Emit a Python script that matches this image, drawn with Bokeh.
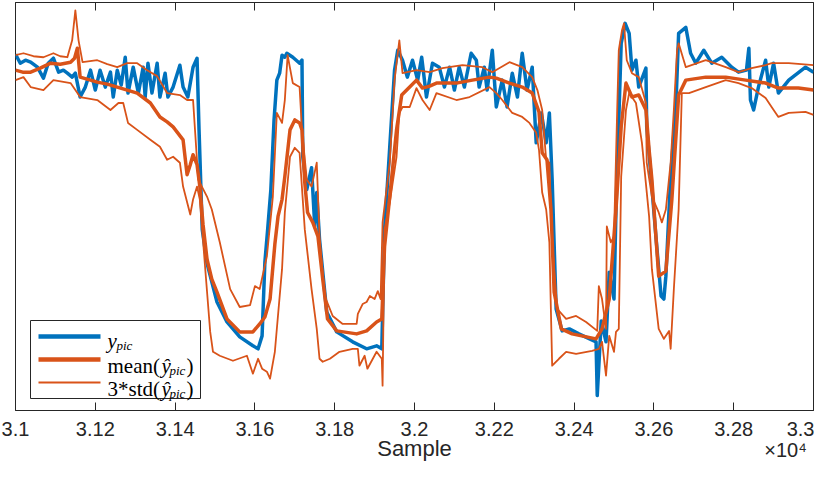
from bokeh.plotting import figure
from bokeh.models import Range1d, FixedTicker, LinearAxis, BoxAnnotation, Label
from bokeh.embed import file_html
from bokeh.resources import INLINE

# ---------------- data (sample index, signal in arbitrary units) ----------------
ypic_sample = [31000, 31012, 31025, 31038, 31055, 31070, 31082, 31095, 31108, 31120, 31130, 31142, 31150,
               31162, 31175, 31188, 31200, 31212, 31225, 31238, 31245, 31255, 31265, 31275, 31282, 31295,
               31308, 31320, 31325, 31332, 31342, 31355, 31362, 31375, 31382, 31395, 31412, 31420, 31432,
               31445, 31455, 31460, 31468, 31480, 31505, 31530, 31562, 31595, 31608, 31618, 31625, 31632,
               31640, 31648, 31655, 31662, 31668, 31675, 31680, 31695, 31712, 31718, 31720, 31730, 31742,
               31750, 31755, 31762, 31780, 31805, 31845, 31880, 31905, 31918, 31925, 31938, 31950, 31958,
               31970, 31982, 31995, 32008, 32018, 32030, 32045, 32062, 32075, 32088, 32100, 32112, 32125,
               32142, 32155, 32162, 32175, 32182, 32195, 32205, 32220, 32232, 32245, 32258, 32270, 32282,
               32295, 32305, 32318, 32330, 32338, 32345, 32355, 32370, 32388, 32412, 32455, 32458, 32468,
               32480, 32488, 32500, 32505, 32518, 32528, 32538, 32545, 32555, 32562, 32580, 32582, 32592,
               32605, 32618, 32625, 32630, 32642, 32655, 32662, 32680, 32692, 32705, 32725, 32745, 32770,
               32795, 32812, 32832, 32838, 32842, 32850, 32862, 32880, 32888, 32900, 32912, 32938, 32980,
               33000]
ypic_value = [358, 349, 352, 350, 345, 334, 349, 354, 340, 342, 339, 335, 339,
              315, 325, 342, 322, 342, 325, 340, 315, 342, 327, 355, 319, 345,
              319, 345, 315, 349, 319, 349, 315, 339, 315, 325, 347, 325, 315,
              345, 354, 282, 182, 148, 109, 89, 74, 65, 62, 75, 149, 182,
              222, 292, 332, 339, 357, 355, 359, 355, 349, 352, 255, 222, 244,
              185, 219, 172, 99, 79, 69, 62, 65, 62, 182, 265, 342, 362,
              352, 335, 352, 332, 355, 315, 349, 345, 325, 345, 322, 345, 325,
              359, 352, 325, 345, 322, 362, 305, 332, 305, 339, 315, 359, 322,
              345, 269, 299, 269, 299, 232, 102, 80, 82, 77, 69, 15, 90,
              69, 139, 112, 202, 369, 389, 379, 342, 352, 325, 344, 285, 239,
              175, 115, 112, 135, 235, 305, 379, 385, 359, 349, 362, 349, 355,
              345, 340, 342, 364, 312, 302, 325, 352, 325, 349, 319, 332, 345,
              340]

mean_sample = [31000, 31018, 31038, 31062, 31088, 31112, 31138, 31148, 31155, 31162, 31188, 31205, 31230,
               31255, 31280, 31305, 31338, 31362, 31380, 31395, 31420, 31430, 31438, 31445, 31455, 31462,
               31470, 31480, 31492, 31505, 31530, 31562, 31595, 31612, 31625, 31638, 31650, 31658, 31668,
               31675, 31688, 31700, 31712, 31718, 31725, 31732, 31745, 31758, 31770, 31782, 31805, 31855,
               31880, 31905, 31918, 31925, 31938, 31955, 31968, 31988, 32005, 32020, 32038, 32055, 32105,
               32145, 32188, 32205, 32238, 32270, 32295, 32312, 32320, 32332, 32342, 32350, 32368, 32395,
               32455, 32470, 32488, 32505, 32518, 32530, 32545, 32562, 32580, 32588, 32595, 32612, 32630,
               32645, 32662, 32680, 32730, 32780, 32830, 32880, 32912, 32962, 33000]
mean_value = [342, 340, 340, 344, 349, 348, 350, 354, 364, 335, 332, 330, 328,
              325, 322, 319, 309, 295, 290, 285, 272, 237, 247, 257, 247, 225,
              187, 152, 132, 119, 92, 79, 79, 87, 94, 112, 167, 195, 212,
              235, 282, 292, 289, 282, 229, 199, 189, 175, 132, 92, 80, 77,
              80, 89, 92, 165, 215, 282, 317, 325, 332, 324, 326, 329, 329,
              332, 335, 334, 329, 325, 319, 300, 259, 252, 202, 119, 82, 77,
              72, 82, 112, 202, 285, 329, 315, 317, 302, 262, 232, 135, 140,
              212, 317, 332, 335, 335, 332, 329, 324, 324, 322]

upper_sample = [31000, 31020, 31045, 31070, 31095, 31112, 31130, 31142, 31150, 31158, 31168, 31205, 31230,
                31255, 31280, 31305, 31330, 31355, 31380, 31412, 31430, 31445, 31458, 31480, 31492, 31512,
                31538, 31562, 31588, 31600, 31612, 31630, 31645, 31655, 31668, 31675, 31682, 31695, 31712,
                31718, 31730, 31742, 31755, 31762, 31775, 31795, 31820, 31855, 31858, 31870, 31880, 31888,
                31900, 31908, 31915, 31920, 31938, 31950, 31958, 31962, 31970, 32005, 32038, 32070, 32120,
                32170, 32195, 32238, 32270, 32295, 32308, 32320, 32330, 32338, 32345, 32358, 32380, 32405,
                32430, 32458, 32462, 32470, 32480, 32482, 32492, 32500, 32508, 32512, 32520, 32525, 32532,
                32545, 32562, 32580, 32582, 32595, 32612, 32620, 32630, 32642, 32650, 32658, 32662, 32680,
                32730, 32780, 32812, 32845, 32880, 32895, 32938, 33000]
upper_value = [357, 359, 356, 355, 359, 356, 355, 372, 402, 372, 350, 352, 348,
               345, 349, 349, 342, 336, 319, 317, 312, 312, 232, 215, 202, 169,
               122, 104, 106, 125, 122, 155, 215, 299, 289, 312, 357, 329, 325,
               282, 232, 225, 249, 175, 115, 95, 87, 87, 97, 107, 109, 115,
               112, 120, 112, 189, 249, 332, 359, 372, 339, 342, 340, 344, 347,
               345, 340, 350, 345, 335, 322, 302, 252, 249, 169, 102, 92, 95,
               89, 80, 125, 112, 82, 185, 169, 175, 302, 362, 382, 389, 352,
               339, 335, 309, 249, 215, 199, 189, 202, 249, 302, 362, 369, 345,
               352, 345, 340, 344, 347, 349, 349, 347]

lower_sample = [31000, 31020, 31038, 31070, 31095, 31138, 31162, 31205, 31238, 31258, 31270, 31282, 31305,
                31338, 31362, 31380, 31395, 31412, 31420, 31438, 31445, 31455, 31462, 31475, 31488, 31495,
                31512, 31545, 31580, 31595, 31608, 31618, 31630, 31638, 31650, 31668, 31675, 31688, 31700,
                31712, 31725, 31742, 31755, 31762, 31770, 31788, 31812, 31845, 31858, 31862, 31875, 31882,
                31905, 31918, 31920, 31925, 31938, 31955, 31962, 31970, 31988, 32005, 32020, 32038, 32055,
                32105, 32138, 32188, 32205, 32220, 32245, 32270, 32288, 32305, 32312, 32320, 32330, 32338,
                32345, 32362, 32380, 32405, 32445, 32462, 32470, 32480, 32488, 32500, 32505, 32512, 32518,
                32530, 32538, 32555, 32570, 32588, 32595, 32612, 32625, 32638, 32642, 32650, 32662, 32670,
                32688, 32730, 32780, 32812, 32845, 32880, 32895, 32912, 32938, 32980, 33000]
lower_value = [332, 335, 325, 322, 332, 329, 315, 312, 302, 309, 309, 289, 282,
               272, 265, 252, 255, 249, 225, 197, 212, 225, 212, 145, 79, 59,
               55, 50, 55, 37, 52, 42, 39, 32, 59, 142, 199, 255, 264,
               259, 182, 122, 82, 52, 49, 52, 59, 62, 62, 45, 55, 42,
               59, 52, 25, 182, 209, 255, 299, 305, 305, 324, 312, 302, 319,
               312, 315, 325, 319, 312, 299, 295, 289, 279, 262, 219, 202, 169,
               45, 52, 59, 57, 60, 62, 69, 35, 75, 59, 79, 82, 235,
               302, 319, 309, 269, 195, 142, 82, 72, 80, 62, 122, 202, 319,
               319, 325, 332, 329, 324, 314, 305, 295, 299, 300, 297]

tick_values = [31000, 31200, 31400, 31600, 31800, 32000, 32200, 32400, 32600, 32800, 33000]
tick_labels = ["3.1", "3.12", "3.14", "3.16", "3.18", "3.2", "3.22", "3.24", "3.26", "3.28", "3.3"]
exponent_text = "\u00d710\u2074"
exponent_anchor = 32930

BLUE = "#0072BD"
ORANGE = "#D95319"
AXIS = "#262626"

p = figure(width=814, height=463, output_backend="svg", toolbar_location=None, tools="",
           x_range=Range1d(31000, 33000), y_range=Range1d(0, 410),
           y_axis_location=None,
           min_border_left=15, min_border_right=1, min_border_top=2, min_border_bottom=51)
p.background_fill_color = "white"
p.border_fill_color = "white"
p.outline_line_color = AXIS
p.outline_line_width = 1
p.grid.visible = False

p.line(ypic_sample, ypic_value, line_color=BLUE, line_width=3.5, line_join="round")
p.line(mean_sample, mean_value, line_color=ORANGE, line_width=3.5, line_join="round")
p.line(upper_sample, upper_value, line_color=ORANGE, line_width=1.8, line_join="round")
p.line(lower_sample, lower_value, line_color=ORANGE, line_width=1.8, line_join="round")

xa = p.xaxis[0]
xa.ticker = FixedTicker(ticks=tick_values, minor_ticks=[])
xa.major_label_overrides = {v: s for v, s in zip(tick_values, tick_labels)}
xa.major_tick_in = 8
xa.major_tick_out = 0
xa.minor_tick_line_color = None
xa.major_tick_line_color = AXIS
xa.axis_line_color = AXIS
xa.major_label_text_font = "Liberation Sans"
xa.major_label_text_font_size = "20px"
xa.major_label_text_color = AXIS
xa.major_label_standoff = 11
xa.axis_label = "Sample"
xa.axis_label_text_font = "Liberation Sans"
xa.axis_label_text_font_size = "22px"
xa.axis_label_text_font_style = "normal"
xa.axis_label_text_color = AXIS
xa.axis_label_standoff = -3

# exponent marker of the x axis (x 10^4), drawn as a label-only axis underneath
ea = LinearAxis(ticker=FixedTicker(ticks=[exponent_anchor], minor_ticks=[]),
                major_label_overrides={exponent_anchor: exponent_text},
                major_tick_in=0, major_tick_out=0, major_tick_line_color=None,
                minor_tick_line_color=None, axis_line_color=None,
                major_label_standoff=-25,
                major_label_text_font="Liberation Sans", major_label_text_font_size="20px",
                major_label_text_color=AXIS)
p.add_layout(ea, "below")

top = LinearAxis(ticker=FixedTicker(ticks=tick_values, minor_ticks=[]),
                 major_tick_in=8, major_tick_out=0, major_label_standoff=0,
                 major_label_text_font_size="1px", major_label_text_color=None,
                 minor_tick_line_color=None,
                 major_tick_line_color=AXIS, axis_line_color=AXIS)
p.add_layout(top, "above")

# legend (drawn as annotations so that the math-style subscripts can be shown)
p.add_layout(BoxAnnotation(left=15, right=185, bottom=12, top=90,
                           left_units="screen", right_units="screen",
                           bottom_units="screen", top_units="screen",
                           fill_color="white", fill_alpha=1.0,
                           line_color=AXIS, line_width=1, line_alpha=1.0))
for yc, h, col in [(74, 4.5, BLUE), (51, 4.5, ORANGE), (28, 2.0, ORANGE)]:
    p.add_layout(BoxAnnotation(left=23, right=85, bottom=yc - h / 2, top=yc + h / 2,
                               left_units="screen", right_units="screen",
                               bottom_units="screen", top_units="screen",
                               fill_color=col, fill_alpha=1.0, line_color=None))

def txt(x, y, s, size="21px", style="normal"):
    p.add_layout(Label(x=x, y=y, x_units="screen", y_units="screen", text=s,
                       text_font="Liberation Serif", text_font_size=size,
                       text_font_style=style, text_color="black",
                       text_baseline="alphabetic"))

txt(92, 70, "y", style="italic")
txt(101, 65, "pic", size="13px", style="italic")
txt(92, 45, "mean(")
txt(146, 45, "\u0177", style="italic")
txt(154, 40, "pic", size="13px", style="italic")
txt(171, 45, ")")
txt(92, 22, "3*std(")
txt(146, 22, "\u0177", style="italic")
txt(154, 17, "pic", size="13px", style="italic")
txt(171, 22, ")")

open("out.html", "w").write(file_html(p, INLINE))
